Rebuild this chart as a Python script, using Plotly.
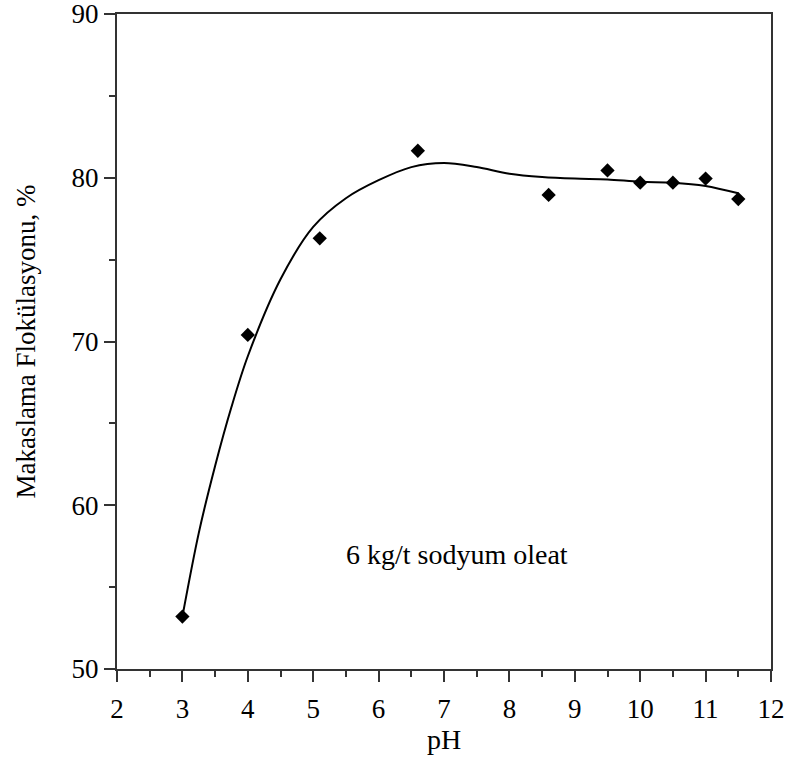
import plotly.graph_objects as go

# measured points
ph = [3.0, 4.0, 5.1, 6.6, 8.6, 9.5, 10.0, 10.5, 11.0, 11.5]
floc = [53.2, 70.4, 76.3, 81.65, 78.95, 80.45, 79.7, 79.7, 79.95, 78.7]

# smooth fitted curve
curve_ph = [3.0, 3.25, 3.5, 3.75, 4.0, 4.5, 5.0, 5.5, 6.0, 6.5, 7.0, 7.5, 8.0, 8.5, 9.0, 9.5, 10.0, 10.5, 11.0, 11.5]
curve_floc = [53.2, 58.3, 62.4, 66.0, 69.1, 73.8, 77.0, 78.75, 79.85, 80.65, 80.9, 80.65, 80.25, 80.05, 79.95, 79.9, 79.75, 79.7, 79.5, 79.05]

x_ticks = [2, 3, 4, 5, 6, 7, 8, 9, 10, 11, 12]
y_ticks = [50, 60, 70, 80, 90]

FONT = "Liberation Serif"

fig = go.Figure()
fig.add_trace(go.Scatter(x=curve_ph, y=curve_floc, mode="lines",
                         line=dict(color="black", width=2, shape="spline", smoothing=0.9),
                         hoverinfo="skip", showlegend=False))
fig.add_trace(go.Scatter(x=ph, y=floc, mode="markers",
                         marker=dict(symbol="diamond", size=11, color="black"),
                         showlegend=False))

axis_common = dict(showline=True, linecolor="#333", linewidth=2, mirror=True,
                   ticks="outside", ticklen=11, tickwidth=2, tickcolor="#333",
                   showgrid=False, zeroline=False, ticklabeloverflow="allow",
                   automargin=False,
                   tickfont=dict(family=FONT, size=27, color="black"))

fig.update_xaxes(range=[2, 12], tickvals=x_ticks, ticktext=[str(v) for v in x_ticks],
                 minor=dict(dtick=0.5, ticks="outside", ticklen=6, tickwidth=2, tickcolor="#333"),
                 ticklabelstandoff=4,
                 title=dict(text="pH", font=dict(family=FONT, size=28, color="black"), standoff=0),
                 **axis_common)
fig.update_yaxes(range=[50, 90], tickvals=y_ticks, ticktext=[str(v) for v in y_ticks],
                 minor=dict(dtick=5, ticks="outside", ticklen=6, tickwidth=2, tickcolor="#333"),
                 title=dict(text="Makaslama Flokülasyonu, %", font=dict(family=FONT, size=27, color="black"), standoff=28),
                 **axis_common)

fig.add_annotation(x=7.2, y=57.0, xref="x", yref="y", text="6 kg/t sodyum oleat",
                   showarrow=False, font=dict(family=FONT, size=28, color="black"))

fig.update_layout(width=791, height=760, margin=dict(l=117, r=20, t=14, b=91),
                  plot_bgcolor="white", paper_bgcolor="white")

fig.write_html("out.html")
